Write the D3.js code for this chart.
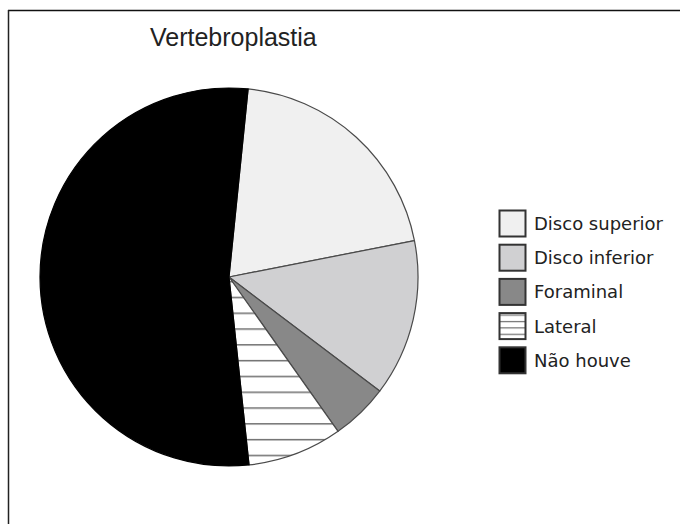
<!DOCTYPE html>
<html>
<head>
<meta charset="utf-8">
<script src="https://cdn.jsdelivr.net/npm/d3@7"></script>
<style>
  html, body { margin: 0; padding: 0; background: #fff; }
  svg { display: block; }
</style>
</head>
<body>
<svg id="chart" width="680" height="524"></svg>
<script>
// Share of each location (percent of cases)
const categories = ["Disco superior", "Disco inferior", "Foraminal", "Lateral", "Não houve"];
const values = [20.3, 13.4, 4.9, 8.1, 53.3];
const fills = ["#f0f0f0", "#d0d0d2", "#888888", "url(#hatch)", "#000000"];
const legendFills = ["#f0f0f0", "#d0d0d2", "#888888", "url(#hatchSmall)", "#000000"];
const title = "Vertebroplastia";

const W = 680, H = 524;
const cx = 229, cy = 277, r = 189;
const start = 5.8 * Math.PI / 180;

const svg = d3.select("#chart");

const defs = svg.append("defs");
const hatch = defs.append("pattern")
  .attr("id", "hatch")
  .attr("patternUnits", "userSpaceOnUse")
  .attr("x", 0).attr("y", 288.3 - 15.8 * 18)
  .attr("width", 20).attr("height", 15.8);
hatch.append("rect").attr("width", 20).attr("height", 15.8).attr("fill", "#fff");
hatch.append("line").attr("x1", 0).attr("x2", 20).attr("y1", 0.75).attr("y2", 0.75)
  .attr("stroke", "#6e6e6e").attr("stroke-width", 1.5);

const hatchS = defs.append("pattern")
  .attr("id", "hatchSmall")
  .attr("patternUnits", "userSpaceOnUse")
  .attr("x", 0).attr("y", 314 + 1)
  .attr("width", 20).attr("height", 6.4);
hatchS.append("rect").attr("width", 20).attr("height", 6.4).attr("fill", "#fff");
hatchS.append("line").attr("x1", 0).attr("x2", 20).attr("y1", 0.6).attr("y2", 0.6)
  .attr("stroke", "#6e6e6e").attr("stroke-width", 1.2);

// Frame lines (top and left)
svg.append("line").attr("x1", 8).attr("x2", W).attr("y1", 10.5).attr("y2", 10.5)
  .attr("stroke", "#111").attr("stroke-width", 1.3);
svg.append("line").attr("x1", 8.5).attr("x2", 8.5).attr("y1", 10).attr("y2", H)
  .attr("stroke", "#222").attr("stroke-width", 1.5);

// Title
svg.append("text")
  .attr("x", 150).attr("y", 46)
  .attr("font-family", "Liberation Sans, Arial, sans-serif")
  .attr("font-size", 25)
  .attr("fill", "#222")
  .text(title);

// Pie
const data = categories.map((c, i) => ({ name: c, value: values[i], fill: fills[i] }));
const pie = d3.pie().sort(null).value(d => d.value)
  .startAngle(start).endAngle(start + 2 * Math.PI);
const arc = d3.arc().innerRadius(0).outerRadius(r);

const g = svg.append("g").attr("transform", `translate(${cx},${cy})`);
g.selectAll("path")
  .data(pie(data))
  .join("path")
  .attr("d", arc)
  .attr("fill", d => d.data.fill)
  .attr("stroke", d => d.data.name === "Não houve" ? "#000" : "#4a4a4a")
  .attr("stroke-width", 1.2)
  .attr("stroke-linejoin", "round");

// Legend
const y0 = 210.5, step = 34.2, box = 26;
const lg = svg.append("g");
const items = lg.selectAll("g")
  .data(categories)
  .join("g")
  .attr("transform", (d, i) => `translate(499.5,${y0 + i * step})`);
items.append("rect")
  .attr("width", box).attr("height", box)
  .attr("fill", (d, i) => legendFills[i])
  .attr("stroke", "#333").attr("stroke-width", 2);
items.append("text")
  .attr("x", 34.5).attr("y", box / 2)
  .attr("dominant-baseline", "central")
  .attr("font-family", "DejaVu Sans, Verdana, sans-serif")
  .attr("font-size", 18)
  .attr("fill", "#222")
  .text(d => d);
</script>
</body>
</html>
